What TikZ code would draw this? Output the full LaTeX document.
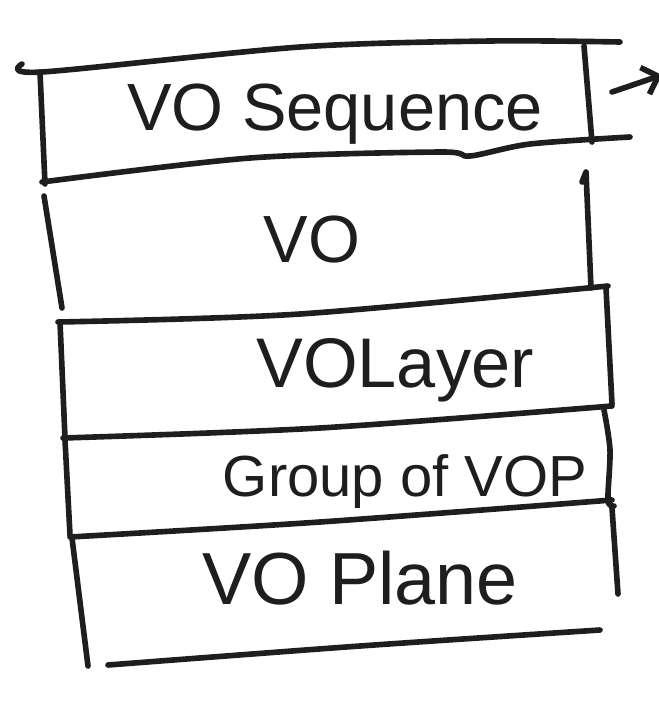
\documentclass[tikz,border=0pt]{standalone}
\usepackage{fontspec}
\setmainfont{Liberation Sans}
\usetikzlibrary{arrows.meta}
\definecolor{ink}{HTML}{1E1E1E}
\tikzset{
  wall/.style={draw=ink, line width=3.2pt, line cap=round, line join=round},
  word/.style={text=ink, inner sep=0pt, anchor=center},
}
\begin{document}
\begin{tikzpicture}[x=0.02cm, y=-0.02cm]
    \useasboundingbox (0,0) rectangle (659,724);

    % VO Sequence
    \draw [wall] plot [smooth] coordinates {(22,64) (42,72) (300,47) (490,41) (620,42)};
    \draw [wall] (40,72) -- (45,184);
    \draw [wall] (584,46) -- (592,142);
    \draw [wall] plot [smooth] coordinates {(42,182) (250,158) (440,152) (470,156) (530,144) (630,137)};

    % VO
    \draw [wall] (44,196) -- (62,308);
    \draw [wall] (582,182) -- (586,172) -- (591,288);
    \draw [wall] plot [smooth] coordinates {(58,322) (300,314) (608,286)};

    % VOLayer
    \draw [wall] (60,322) -- (65,438);
    \draw [wall] (606,288) -- (612,404);
    \draw [wall] plot [smooth] coordinates {(63,438) (320,428) (612,406)};

    % Group of VOP
    \draw [wall] (65,440) -- (70,535);
    \draw [wall] plot [smooth] coordinates {(604,410) (610,450) (608,500) (614,506)};
    \draw [wall] plot [smooth] coordinates {(70,537) (320,522) (612,500)};

    % VO Plane
    \draw [wall] (72,538) -- (88,666);
    \draw [wall] (612,508) -- (618,594);
    \draw [wall] plot [smooth] coordinates {(108,665) (360,646) (600,630)};

    % outgoing arrow
    \coordinate (tail) at (612,92);
    \coordinate (head) at (662,75);
    \draw [wall, -{Straight Barb[length=8pt]}] (tail) -- (head);

    \node [word, font=\fontsize{38}{40}\selectfont] (seq) at (335,114) {VO Sequence};
    \node [word, font=\fontsize{38}{40}\selectfont] (vo) at (312,240) {VO};
    \node [word, font=\fontsize{40}{42}\selectfont] (layer) at (395,370) {VOLayer};
    \node [word, font=\fontsize{33}{35}\selectfont] (gov) at (405,482) {Group of VOP};
    \node [word, font=\fontsize{42}{44}\selectfont] (plane) at (360,578) {VO Plane};
\end{tikzpicture}
\end{document}
